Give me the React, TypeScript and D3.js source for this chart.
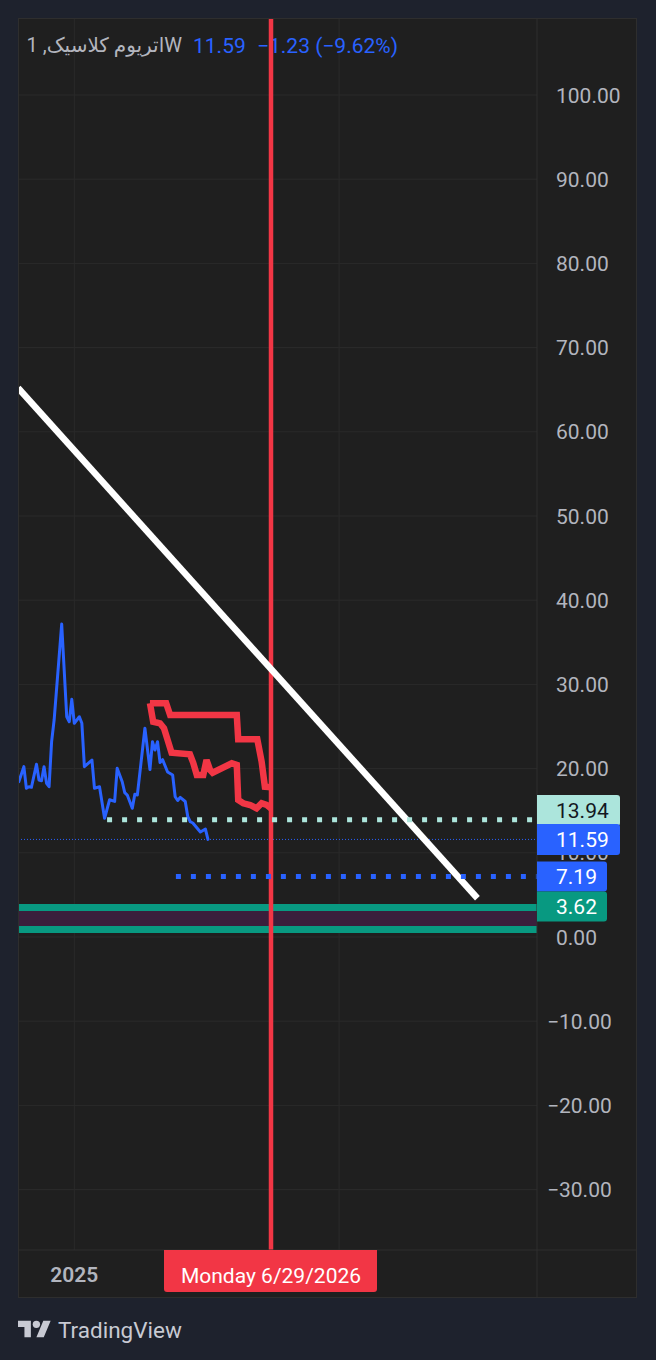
import React from 'react';
import * as d3 from 'd3';

// weekly closes (blue series)
const blueDates = [
  '2024-07-29', '2024-08-12', '2024-08-19', '2024-08-26', '2024-09-02', '2024-09-16',
  '2024-09-23', '2024-09-30', '2024-10-07', '2024-10-14', '2024-10-21', '2024-10-28',
  '2024-11-04', '2024-11-25', '2024-12-09', '2024-12-16', '2024-12-23', '2024-12-30',
  '2025-01-13', '2025-01-20', '2025-01-27', '2025-02-17', '2025-02-24', '2025-03-10',
  '2025-03-24', '2025-04-07', '2025-04-21', '2025-04-28', '2025-05-12', '2025-05-19',
  '2025-05-26', '2025-06-09', '2025-06-16', '2025-06-23', '2025-07-14', '2025-07-28',
  '2025-08-04', '2025-08-11', '2025-08-18', '2025-08-25', '2025-09-01', '2025-09-15',
  '2025-09-29', '2025-10-06', '2025-10-13', '2025-10-20', '2025-11-03', '2025-11-10',
  '2025-11-17', '2025-11-24', '2025-12-15', '2025-12-29', '2026-01-05',
];
const blueValues = [
  18.44, 20.23, 17.66, 17.85, 17.78, 20.51,
  18.65, 18.56, 20.23, 18.25, 17.85, 23.19,
  25.77, 37.17, 26.16, 25.57, 28.23, 25.38,
  26.16, 25.38, 20.23, 21.02, 17.66, 17.85,
  14.1, 16.3, 16.1, 20.04, 18.44, 17.14,
  16.86, 15.29, 16.95, 16.86, 24.79, 19.88,
  23.19, 22.2, 23.19, 20.72, 21.06, 19.6,
  19.24, 16.66, 16.21, 16.59, 16.09, 14.29,
  13.69, 13.54, 12.47, 12.82, 11.59,
];

// red drawn paths
const redUpperDates = [
  '2025-07-28', '2025-09-11', '2025-09-22', '2026-03-26', '2026-03-30',
  '2026-05-22', '2026-06-03', '2026-06-12', '2026-06-29',
];
const redUpperValues = [27.76, 27.76, 26.37, 26.37, 23.48, 23.48, 20.82, 17.85, 17.78];

const redLowerDates = [
  '2025-07-28', '2025-08-06', '2025-08-25', '2025-09-05', '2025-09-26', '2025-11-16',
  '2025-11-25', '2025-12-05', '2025-12-23', '2026-01-01', '2026-01-11', '2026-01-18',
  '2026-03-12', '2026-03-26', '2026-03-30', '2026-04-13', '2026-05-02', '2026-05-20',
  '2026-06-03', '2026-06-17', '2026-06-29',
];
const redLowerValues = [
  27.76, 25.57, 25.38, 24.79, 21.89, 21.7,
  20.7, 19.24, 19.24, 21.02, 19.83, 19.51,
  20.63, 20.43, 16.27, 15.88, 15.68, 15.28,
  15.88, 15.68, 15.28,
];

// white trend line
const trendDates = ['2024-07-27', '2028-01-23'];
const trendValues = [65.2, 4.6];

// horizontal levels
const mintLevel = { date: '2025-03-31', value: 13.94 };
const blueLevel = { date: '2025-10-08', value: 7.19 };
const zoneTop = 3.62;
const zoneBottom = 0.89;
const lastPrice = 11.59;
const change = -1.23;
const changePct = -9.62;

const priceTicks = [100, 90, 80, 70, 60, 50, 40, 30, 20, 10, 0, -10, -20, -30];
const gridDates = ['2024-12-30', '2027-01-04'];
const yearLabels = [{ date: '2024-12-30', label: '2025' }];
const crossDate = '2026-06-29';
const symbolName = 'اتریوم کلاسیک, 1';

const parse = d3.timeParse('%Y-%m-%d');
const FONT = 'Roboto, "Noto Sans", "DejaVu Sans", sans-serif';

const left = 18, right = 537, top = 18, bottom = 1250, axisRight = 637, axisBottom = 1298;
const FS = 21;

const fmt = d3.format('.2f');
const fmtPrice = (v: number) => (v < 0 ? '\u2212' + fmt(-v) : fmt(v));

function labelPath(yc: number, w: number, h = 31, r = 3) {
  const t = yc - h / 2, b = yc + h / 2, x2 = right + w;
  return `M${right},${t}H${x2 - r}Q${x2},${t} ${x2},${t + r}V${b - r}Q${x2},${b} ${x2 - r},${b}H${right}Z`;
}

export default function App() {
  const x = d3.scaleTime()
    .domain([parse('2024-12-30')!, parse(crossDate)!])
    .range([74.3, 271]);
  const y = d3.scaleLinear().domain([0, 100]).range([937, 95]);

  const line = d3.line<[Date, number]>().x(d => x(d[0])).y(d => y(d[1]));
  const zip = (ds: string[], vs: number[]) => ds.map((d, i) => [parse(d)!, vs[i]] as [Date, number]);

  const crossX = x(parse(crossDate)!);
  const dateLabel = d3.timeFormat('%A %-m/%-d/%Y')(parse(crossDate)!);

  const yMint = y(mintLevel.value);
  const yLast = y(lastPrice);
  const yBlue = y(blueLevel.value);
  const yZone = y(zoneTop);
  const yZoneB = y(zoneBottom);
  const mintLabelY = Math.min(yMint, yLast - 29);

  return (
    <div style={{ position: 'absolute', left: 0, top: 0 }}>
      <svg width={656} height={1360} style={{ display: 'block', fontFamily: FONT }}>
        <defs>
          <clipPath id="plot">
            <rect x={left} y={top} width={right - left} height={bottom - top} />
          </clipPath>
        </defs>
        <rect width={656} height={1360} fill="#1e222d" />
        <rect x={left} y={top} width={axisRight - left} height={axisBottom - top} fill="#1f1f1f" />

        {/* grid */}
        {priceTicks.map(v => (
          <line key={v} x1={left} x2={right} y1={y(v)} y2={y(v)} stroke="#2a2a2a" strokeWidth={1} />
        ))}
        {gridDates.map(d => (
          <line key={d} x1={x(parse(d)!)} x2={x(parse(d)!)} y1={top} y2={bottom} stroke="#2a2a2a" strokeWidth={1} />
        ))}

        {/* legend */}
        <text x={182} y={52} fontSize={20} fill="#b2b5be" textAnchor="end">
          {'\u2067' + symbolName + '\u2069W'}
        </text>
        <text x={193} y={52.5} fontSize={FS} fill="#2962ff">{fmt(lastPrice)}</text>
        <text x={257} y={52.5} fontSize={FS} fill="#2962ff">
          {`\u2212${fmt(-change)} (\u2212${fmt(-changePct)}%)`}
        </text>

        <g clipPath="url(#plot)">
          {/* zone */}
          <rect x={left} y={yZone} width={right - left} height={yZoneB - yZone} fill="#3a1f3c" />
          <line x1={left} x2={right} y1={yZone + 1} y2={yZone + 1} stroke="#089981" strokeWidth={7} />
          <line x1={left} x2={right} y1={yZoneB} y2={yZoneB} stroke="#089981" strokeWidth={7} />

          {/* last price line */}
          <line x1={left} x2={right} y1={yLast} y2={yLast} stroke="#2962ff" strokeWidth={1} strokeDasharray="1 2" />

          {/* series */}
          <path d={line(zip(blueDates, blueValues))!} fill="none" stroke="#2962ff" strokeWidth={3}
            strokeLinejoin="round" strokeLinecap="round" />
          <path d={line(zip(redUpperDates, redUpperValues))!} fill="none" stroke="#f23645" strokeWidth={6.5}
            strokeLinejoin="miter" strokeMiterlimit={3} />
          <path d={line(zip(redLowerDates, redLowerValues))!} fill="none" stroke="#f23645" strokeWidth={6.5}
            strokeLinejoin="miter" strokeMiterlimit={3} />

          {/* vertical marker */}
          <line x1={crossX} x2={crossX} y1={top} y2={bottom} stroke="#f23645" strokeWidth={4.5} />

          {/* trend line */}
          <path d={line(zip(trendDates, trendValues))!} stroke="#ffffff" strokeWidth={6.5} fill="none" />

          {/* dotted levels */}
          <line x1={x(parse(mintLevel.date)!)} x2={right} y1={yMint} y2={yMint}
            stroke="#ace5dc" strokeWidth={5} strokeDasharray="5 10" />
          <line x1={x(parse(blueLevel.date)!)} x2={right} y1={yBlue} y2={yBlue}
            stroke="#2962ff" strokeWidth={5} strokeDasharray="5 10" />
        </g>

        {/* axis separators */}
        <line x1={right} x2={right} y1={top} y2={axisBottom} stroke="#2e2e2e" strokeWidth={1} />
        <line x1={left} x2={axisRight} y1={bottom} y2={bottom} stroke="#2e2e2e" strokeWidth={1} />

        {/* price axis labels */}
        {priceTicks.map(v => (
          <text key={v} x={v < 0 ? 547 : 556} y={y(v) + 7.5} fontSize={FS} fill="#b2b5be">{fmtPrice(v)}</text>
        ))}

        {/* price label boxes */}
        <path d={labelPath(mintLabelY, 83)} fill="#ace5dc" />
        <text x={556} y={mintLabelY + 7.5} fontSize={FS} fill="#131722">{fmt(mintLevel.value)}</text>
        <path d={labelPath(yLast, 83)} fill="#2962ff" />
        <text x={556} y={yLast + 7.5} fontSize={FS} fill="#ffffff">{fmt(lastPrice)}</text>
        <path d={labelPath(yBlue, 70, 30)} fill="#2962ff" />
        <text x={556} y={yBlue + 7.5} fontSize={FS} fill="#ffffff">{fmt(blueLevel.value)}</text>
        <path d={labelPath(yZone, 70, 30)} fill="#089981" />
        <text x={556} y={yZone + 7.5} fontSize={FS} fill="#ffffff">{fmt(zoneTop)}</text>

        {/* time axis */}
        {yearLabels.map(t => (
          <text key={t.label} x={x(parse(t.date)!)} y={1282} fontSize={FS} fontWeight={600}
            fill="#b2b5be" textAnchor="middle">{t.label}</text>
        ))}
        <path d={`M${crossX - 107},${bottom}H${crossX + 106}V${bottom + 39}Q${crossX + 106},${bottom + 42} ${crossX + 103},${bottom + 42}H${crossX - 104}Q${crossX - 107},${bottom + 42} ${crossX - 107},${bottom + 39}Z`}
          fill="#f23645" />
        <text x={crossX} y={1283} fontSize={FS} fill="#ffffff" textAnchor="middle">{dateLabel}</text>

        {/* panel border */}
        <rect x={left + 0.5} y={top + 0.5} width={axisRight - left - 1} height={axisBottom - top - 1}
          fill="none" stroke="#2e2e2e" strokeWidth={1} />

        {/* logo */}
        <g transform="translate(18,1317) scale(0.92)" fill="#c8cad3">
          <path d="M14 22H7V11H0V4h14v18zM28 22h-8l7.5-18h8L28 22z" />
          <circle cx={20} cy={8} r={4} />
        </g>
        <text x={58} y={1337.5} fontSize={22.5} fill="#c8cad3">TradingView</text>
      </svg>
    </div>
  );
}
